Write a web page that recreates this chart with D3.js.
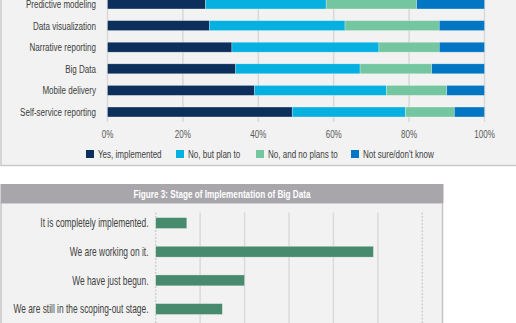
<!DOCTYPE html>
<html>
<head>
<meta charset="utf-8">
<script src="https://cdn.jsdelivr.net/npm/d3@7/dist/d3.min.js"></script>
<style>
  html, body { margin: 0; padding: 0; background: #fff; }
  svg { display: block; }
  text { font-family: "Liberation Sans", Arial, sans-serif; }
</style>
</head>
<body>
<svg id="chart" width="516" height="323"></svg>
<script>
// figura 2: adocao por tecnologia (barras empilhadas, %)
const techCategories = ["Predictive modeling", "Data visualization", "Narrative reporting", "Big Data", "Mobile delivery", "Self-service reporting"];
const answerKeys = ["Yes, implemented", "No, but plan to", "No, and no plans to", "Not sure/don't know"];
const answerColors = ["#0c2f5c", "#06b0e0", "#74c6a1", "#0376c3"];
const yesImplemented = [26, 27, 33, 34, 39, 49];
const noButPlan = [32, 36, 39, 33, 35, 30];
const noPlans = [24, 25, 16, 19, 16, 13];
const notSure = [18, 12, 12, 14, 10, 8];
const pctTicks = [0, 20, 40, 60, 80, 100];

// figura 3: estagio de implementacao de big data
const stageCategories = ["It is completely implemented.", "We are working on it.", "We have just begun.", "We are still in the scoping-out stage."];
const stageValues = [7, 49, 20, 15];
const stageTicks = [0, 10, 20, 30, 40, 50, 60];

const svg = d3.select("#chart");
const LABEL = "#404040";
// a fonte original eh condensada, entao o texto eh estreitado na horizontal
const NARROW = 0.70;
const place = (x, y) => `translate(${x},${y}) scale(${NARROW},1)`;

// ---------- painel de cima ----------
const gTop = svg.append("g");
gTop.append("rect")
  .attr("x", 1).attr("y", -10).attr("width", 530).attr("height", 175.5)
  .attr("fill", "#f2f2f2").attr("stroke", "#c9c9c9").attr("stroke-width", 1.5);

const x1 = d3.scaleLinear().domain([0, 100]).range([107.5, 484.5]);
const y1 = d3.scaleBand().domain(techCategories).range([-6.8, -6.8 + 6 * 21.6]).paddingInner(0.54).paddingOuter(0.27);

gTop.append("g").selectAll("line")
  .data(pctTicks)
  .join("line")
  .attr("x1", (d) => x1(d)).attr("x2", (d) => x1(d))
  .attr("y1", -10).attr("y2", 122)
  .attr("stroke", "#d8d8d8").attr("stroke-width", 1.5);

const rows = techCategories.map((c, i) => ({
  cat: c,
  [answerKeys[0]]: yesImplemented[i],
  [answerKeys[1]]: noButPlan[i],
  [answerKeys[2]]: noPlans[i],
  [answerKeys[3]]: notSure[i],
}));
const stacked = d3.stack().keys(answerKeys)(rows);
const color = d3.scaleOrdinal().domain(answerKeys).range(answerColors);

gTop.append("g").selectAll("g")
  .data(stacked)
  .join("g")
  .attr("fill", (s) => color(s.key))
  .selectAll("rect")
  .data((s) => s)
  .join("rect")
  .attr("x", (d) => x1(d[0]))
  .attr("width", (d) => x1(d[1]) - x1(d[0]))
  .attr("y", (d) => y1(d.data.cat))
  .attr("height", y1.bandwidth())
  .attr("stroke", "rgba(255,255,255,0.45)")
  .attr("stroke-width", 0.6);

gTop.append("g").selectAll("text")
  .data(techCategories)
  .join("text")
  .attr("transform", (d) => place(96, y1(d) + y1.bandwidth() / 2))
  .attr("dy", "0.35em")
  .attr("text-anchor", "end")
  .attr("font-size", 11.5)
  .attr("fill", LABEL)
  .text((d) => d);

gTop.append("g").selectAll("text")
  .data(pctTicks)
  .join("text")
  .attr("transform", (d) => place(x1(d), 133.5))
  .attr("dy", "0.35em")
  .attr("text-anchor", "middle")
  .attr("font-size", 11.5)
  .attr("fill", "#595959")
  .text((d) => d + "%");

// legenda
const legendX = [86, 176, 256, 351];
const legend = gTop.append("g").selectAll("g")
  .data(answerKeys)
  .join("g")
  .attr("transform", (d, i) => `translate(${legendX[i]},150)`);
legend.append("rect").attr("width", 8).attr("height", 8).attr("fill", (d) => color(d));
legend.append("text")
  .attr("transform", place(12, 4))
  .attr("dy", "0.35em")
  .attr("font-size", 11.5).attr("fill", LABEL)
  .text((d) => d);

// ---------- painel de baixo ----------
const gBot = svg.append("g");
gBot.append("rect")
  .attr("x", 1).attr("y", 203).attr("width", 441.5).attr("height", 140)
  .attr("fill", "#f2f2f2").attr("stroke", "#c4c4c4").attr("stroke-width", 1.5);
gBot.append("rect")
  .attr("x", 0.5).attr("y", 184).attr("width", 443).attr("height", 19)
  .attr("fill", "#a8a6ab");
gBot.append("text")
  .attr("transform", place(222, 193.5))
  .attr("dy", "0.35em")
  .attr("text-anchor", "middle")
  .attr("font-size", 11.7).attr("font-weight", "bold").attr("fill", "#fff")
  .text("Figure 3: Stage of Implementation of Big Data");

const x2 = d3.scaleLinear().domain([0, 60]).range([155.7, 422.3]);
const y2 = d3.scaleBand().domain(stageCategories).range([208.7, 208.7 + 4 * 28.67]).paddingInner(0.62).paddingOuter(0.31);

gBot.append("g").selectAll("line")
  .data(stageTicks)
  .join("line")
  .attr("x1", (d) => x2(d)).attr("x2", (d) => x2(d))
  .attr("y1", 212.5).attr("y2", 330)
  .attr("stroke", (d) => (d === 0 || d === 60 ? "#cfcfcf" : "#dadada"))
  .attr("stroke-width", 1.5)
  .attr("stroke-dasharray", (d) => (d === 0 || d === 60 ? "2 1.5" : null));

gBot.append("g").selectAll("rect")
  .data(stageValues)
  .join("rect")
  .attr("x", x2(0))
  .attr("y", (d, i) => y2(stageCategories[i]))
  .attr("width", (d) => x2(d) - x2(0))
  .attr("height", y2.bandwidth())
  .attr("fill", "#488a6e")
  .attr("stroke", "rgba(255,255,255,0.5)")
  .attr("stroke-width", 0.6);

gBot.append("g").selectAll("text")
  .data(stageCategories)
  .join("text")
  .attr("transform", (d) => place(148.5, y2(d) + y2.bandwidth() / 2))
  .attr("dy", "0.35em")
  .attr("text-anchor", "end")
  .attr("font-size", 12)
  .attr("fill", LABEL)
  .text((d) => d);
</script>
</body>
</html>
